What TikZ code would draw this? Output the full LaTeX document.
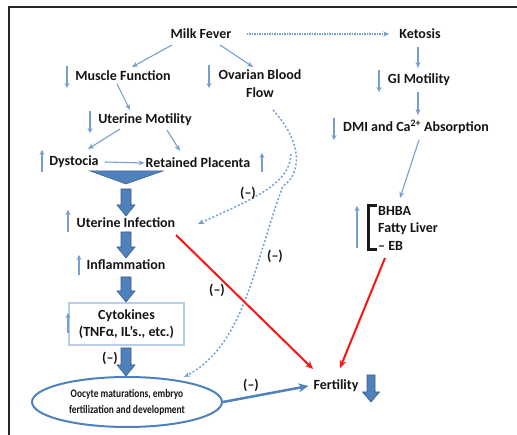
\documentclass[tikz,border=0pt]{standalone}
\usepackage{fontspec}
\setmainfont{Carlito}
\usetikzlibrary{arrows.meta,shapes.geometric,calc}
\definecolor{lb}{RGB}{120,158,208}
\definecolor{blk}{RGB}{79,129,189}
\definecolor{blkd}{RGB}{56,93,138}
\definecolor{boxb}{RGB}{185,205,229}
\definecolor{rd}{RGB}{250,20,20}
\newcommand{\BlkArr}[6]{% x, ytop, ybot, shaft half, head half, head length
  \filldraw[fill=blk,draw=blkd,line width=0.6pt,line join=miter]
    (#1-#4,#2) -- (#1+#4,#2) -- (#1+#4,#3-#6) -- (#1+#5,#3-#6) -- (#1,#3)
    -- (#1-#5,#3-#6) -- (#1-#4,#3-#6) -- cycle;}
\begin{document}
\begin{tikzpicture}[x=1pt,y=-1pt,
  txt/.style={inner sep=0pt,font=\fontsize{14}{18}\selectfont\bfseries,text=black!92},
  lbarr/.style={draw=lb,line width=1.1pt,-{Stealth[length=6pt,width=5pt]}},
  tick/.style={draw=lb,line width=1.1pt,-{Stealth[length=5pt,width=5pt]}},
  dotarr/.style={draw=lb,line width=1.5pt,dash pattern=on 2pt off 2pt,-{Stealth[length=6pt,width=5pt]}},
  redarr/.style={draw=rd,line width=2pt,-{Stealth[length=8pt,width=7pt]}},
  minus/.style={inner sep=0pt,font=\fontsize{14}{16}\selectfont\bfseries,text=black!92}]
\useasboundingbox (0,0) rectangle (517,435);
% frame
\draw[line width=2pt,black!85] (9,440) -- (9,7) -- (520,7);

% nodes
\node[txt] (mf) at (201,34) {Milk Fever};
\node[txt] (ket) at (420,34) {Ketosis};
\node[txt] (mus) at (123,76) {Muscle Function};
\node[txt,align=center] (ova) at (260,84) {Ovarian Blood\\Flow};
\node[txt] (um) at (145,120) {Uterine Motility};
\node[txt] (dys) at (74,162) {Dystocia};
\node[txt] (rp) at (198,163) {Retained Placenta};
\node[txt] (ui) at (126,223) {Uterine Infection};
\node[txt] (inf) at (126,265) {Inflammation};
\node[txt,align=center,draw=boxb,line width=1.8pt,minimum width=115pt,minimum height=42pt,
      font=\fontsize{14}{17}\selectfont\bfseries] (cyt) at (126.5,324) {Cytokines\\(TNFα, IL’s., etc.)};
\node[ellipse,draw=blk,line width=2pt,minimum width=190pt,minimum height=50pt,inner sep=0pt] (ell) at (127,402) {};
\node[txt,align=center,xscale=0.82,transform shape,
      font=\fontsize{11.5}{16}\selectfont\bfseries] (elltxt) at (ell.center) {Oocyte maturations, embryo\\fertilization and development};
\node[txt] (fert) at (336,386) {Fertility};
\node[txt] (gi) at (419,80) {GI Motility};
\node[txt] (dmi) at (416,127) {DMI and Ca\textsuperscript{2+} Absorption};
\node[txt,anchor=west,align=left,font=\fontsize{14}{17.5}\selectfont\bfseries] (bh) at (378,228) {BHBA\\Fatty Liver\\– EB};

% bracket
\draw[line width=3pt,black!90] ($(bh.west)+(-1,-22)$) -- ($(bh.west)+(-10,-22)$) -- ($(bh.west)+(-10,22)$) -- ($(bh.west)+(-1,22)$);

% triangle funnel
\filldraw[fill=blk,draw=blkd,line width=0.5pt] (90,171) -- (163,171) -- (126,184) -- cycle;
\coordinate (tri) at (126,184);

% block arrows
\BlkArr{126}{189}{216}{5}{9}{11}
\BlkArr{126}{232}{258}{5}{9}{11}
\BlkArr{126}{277}{302}{5}{9}{11}
\BlkArr{126}{348}{376}{5}{9}{11}
\BlkArr{371}{375}{402}{4}{8.5}{10}

% connectors (light blue)
\draw[dotarr,line width=1.1pt,dash pattern=on 1.5pt off 1pt] ([xshift=15pt]mf.east) -- ([xshift=-10pt]ket.west);
\draw[lbarr] ($(mf)+(-29,11)$) -- ($(mus)+(9,-9)$);
\draw[lbarr] ($(mf)+(19,11)$) -- ($(ova)+(-7,-17)$);
\draw[lbarr] ($(mus)+(-6,8)$) -- ($(um)+(-15,-10)$);
\draw[lbarr] ($(um)+(-25,9)$) -- ($(dys)+(14,-13)$);
\draw[lbarr] ($(um)+(22,10)$) -- ($(rp)+(-18,-12)$);
\draw[lbarr] ([xshift=6pt]dys.east) -- ([xshift=-1pt]rp.west);
\draw[lbarr] ($(ket)+(-2,13)$) -- ($(gi)+(-1,-12)$);
\draw[lbarr] ($(gi)+(-1,12)$) -- ($(dmi)+(2,-12)$);
\draw[lbarr] ($(dmi)+(3,13)$) -- ($(bh.west)+(22,-30)$);

% dotted curves
\draw[dotarr] ($(ova)+(13,26)$) .. controls (305,145) and (300,175) .. (283,186)
   .. controls (255,260) and (245,345) .. ($(ell)+(57,-25)$);
\coordinate (bstart) at (291,154);
\draw[dotarr] (bstart) .. controls (290,185) and (250,200) .. ($(ui)+(72,1)$);

% red arrows
\draw[redarr] ($(ui)+(50,12)$) -- ($(fert)+(-23,-17)$);
\draw[redarr] ($(bh.west)+(7,30)$) -- ($(fert)+(4,-18)$);

% oocyte -> fertility
\draw[draw=blk,line width=2.5pt,-{Stealth[length=10pt,width=9pt]}] (ell.east) -- ([xshift=-5pt]fert.west);

% (-) labels
\node[minus] (m1) at (248,193) {(–)};
\node[minus] (m2) at (275,256) {(–)};
\node[minus] (m3) at (217,290) {(–)};
\node[minus] (m4) at (110,358) {(–)};
\node[minus] (m5) at (251,385) {(–)};

% small up/down indicator arrows
\draw[tick] (67,66) -- (67,88);
\draw[tick] (209,65) -- (209,88);
\draw[tick] (90,111) -- (90,133);
\draw[tick] (42,172) -- (42,150);
\draw[tick] (262,172) -- (262,153);
\draw[tick] (68,232) -- (68,210);
\draw[tick] (79,275) -- (79,255);
\draw[tick] (68,333) -- (68,313);
\draw[tick] (379,70) -- (379,92);
\draw[tick] (334,118) -- (334,140);
\draw[tick] (357,248) -- (357,206);
\end{tikzpicture}
\end{document}
